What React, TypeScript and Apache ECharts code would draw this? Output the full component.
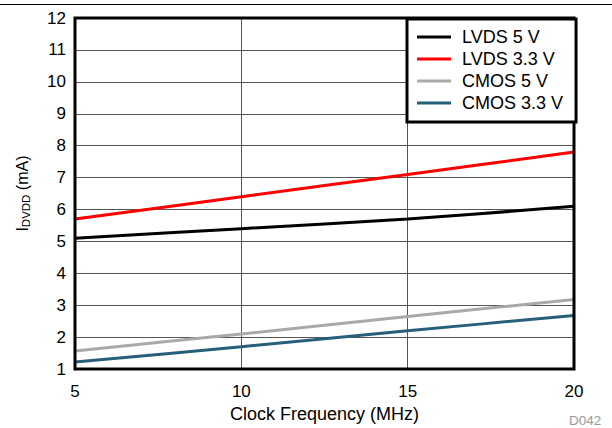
import React, { useEffect, useRef } from "react";
import * as echarts from "echarts";

const freqs = [5, 10, 15, 20];
const lvds5 = [5.1, 5.4, 5.7, 6.1];
const lvds33 = [5.7, 6.4, 7.1, 7.8];
const cmos5 = [1.57, 2.1, 2.65, 3.18];
const cmos33 = [1.22, 1.7, 2.2, 2.68];
const seriesNames = ["LVDS 5 V", "LVDS 3.3 V", "CMOS 5 V", "CMOS 3.3 V"];
const seriesColors = ["#000000", "#ff0000", "#a9a9a9", "#265f78"];

const FONT = "Liberation Sans, Arial, Helvetica, sans-serif";

export default function App() {
  const ref = useRef<HTMLDivElement>(null);
  useEffect(() => {
    const chart = echarts.init(ref.current!, null, { renderer: "svg" });
    const datasets = [lvds5, lvds33, cmos5, cmos33];
    chart.setOption({
      animation: false,
      backgroundColor: "#ffffff",
      textStyle: { fontFamily: FONT },
      grid: {
        left: 75,
        right: 38,
        top: 18,
        bottom: 57,
        show: true,
        borderColor: "#000",
        borderWidth: 3,
        z: 10,
      },
      legend: {
        orient: "vertical",
        left: 407,
        top: 19,
        data: seriesNames,
        icon: "rect",
        itemWidth: 34,
        itemHeight: 3,
        itemGap: 4,
        padding: [9, 13, 10, 10],
        borderColor: "#000",
        borderWidth: 3,
        backgroundColor: "#fff",
        textStyle: { fontSize: 18, color: "#000", fontFamily: FONT, padding: [0, 0, 0, 6] },
        z: 20,
      },
      xAxis: {
        type: "value",
        min: 5,
        max: 20,
        interval: 5,
        name: "Clock Frequency (MHz)",
        nameLocation: "middle",
        nameGap: 33,
        nameTextStyle: { fontSize: 18, color: "#000", fontFamily: FONT },
        axisLine: { show: false },
        axisTick: { show: false },
        axisLabel: { fontSize: 17, color: "#000", margin: 14, fontFamily: FONT },
        splitLine: { show: true, lineStyle: { color: "#555", width: 1 } },
      },
      yAxis: {
        type: "value",
        min: 1,
        max: 12,
        interval: 1,
        name: "{a|I}{b|DVDD}{a| (mA)}",
        nameLocation: "middle",
        nameGap: 43,
        nameTextStyle: {
          color: "#000",
          fontFamily: FONT,
          rich: {
            a: { fontSize: 16, color: "#000", fontFamily: FONT },
            b: { fontSize: 11.5, color: "#000", fontFamily: FONT, padding: [8, 0, 0, 0] },
          },
        },
        axisLine: { show: false },
        axisTick: { show: false },
        axisLabel: { fontSize: 17, color: "#000", margin: 9, fontFamily: FONT },
        splitLine: { show: true, lineStyle: { color: "#555", width: 1 } },
      },
      graphic: [
        {
          type: "line",
          shape: { x1: 0, y1: 4.5, x2: 612, y2: 4.5 },
          style: { stroke: "#000", lineWidth: 1 },
        },
        {
          type: "text",
          left: 569,
          top: 413,
          style: { text: "D042", fontSize: 13.5, fill: "#999", fontFamily: FONT },
        },
      ],
      series: datasets.map((d, i) => ({
        name: seriesNames[i],
        type: "line",
        data: freqs.map((f, j) => [f, d[j]]),
        showSymbol: false,
        symbol: "none",
        smooth: 0.3,
        lineStyle: { color: seriesColors[i], width: 3 },
        itemStyle: { color: seriesColors[i] },
        z: 5,
      })),
    });
    return () => chart.dispose();
  }, []);
  return (
    <div
      ref={ref}
      style={{ position: "fixed", left: 0, top: 0, width: 612, height: 428 }}
    />
  );
}
